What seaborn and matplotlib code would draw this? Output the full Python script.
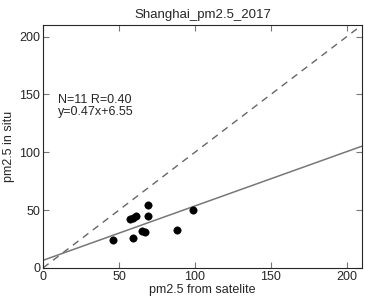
import numpy as np
import pandas as pd
import seaborn as sns
import matplotlib
matplotlib.use("Agg")
import matplotlib.pyplot as plt

satellite = [46, 57, 59, 61, 59, 69, 69, 65, 67, 88, 99]
in_situ = [24, 42, 43, 45, 26, 54, 45, 32, 31, 33, 50]
slope = 0.47
intercept = 6.55
n_points = 11
r_value = 0.40
ticks = [0, 50, 100, 150, 200]
lim = 210

sns.set_style("ticks")
plt.rcParams['font.family'] = ['Liberation Sans', 'DejaVu Sans']

fig = plt.figure(figsize=(3.65, 2.97), dpi=100)
ax = fig.add_axes([0.118, 0.098, 0.874, 0.818])

xs = np.array([0, lim])
sns.lineplot(x=xs, y=xs, ax=ax, color='#666666', linestyle=(0, (5, 4)), linewidth=1)
sns.lineplot(x=xs, y=slope * xs + intercept, ax=ax, color='#777777', linewidth=1.1)
df = pd.DataFrame({'sat': satellite, 'obs': in_situ})
sns.scatterplot(data=df, x='sat', y='obs', ax=ax, color='black', s=28, edgecolor='black', zorder=3)

ax.set_xlim(0, lim)
ax.set_ylim(0, lim)
ax.set_xticks(ticks)
ax.set_yticks(ticks)
ax.tick_params(direction='in', top=True, right=True, labelsize=9, length=4, color='#777777', pad=2)
for sp in ax.spines.values():
    sp.set_visible(True)
    sp.set_linewidth(0.8)
ax.set_xlabel('pm2.5 from satelite', fontsize=9, labelpad=1)
ax.set_ylabel('pm2.5 in situ', fontsize=9, labelpad=3)
ax.set_title('Shanghai_pm2.5_2017', fontsize=9.5, pad=5)
ax.text(10, 150, f'N={n_points} R={r_value:.2f}\ny={slope:.2f}x+{intercept:.2f}',
        fontsize=9, va='top', ha='left', linespacing=1.0)

fig.savefig('out.png', dpi=100)
